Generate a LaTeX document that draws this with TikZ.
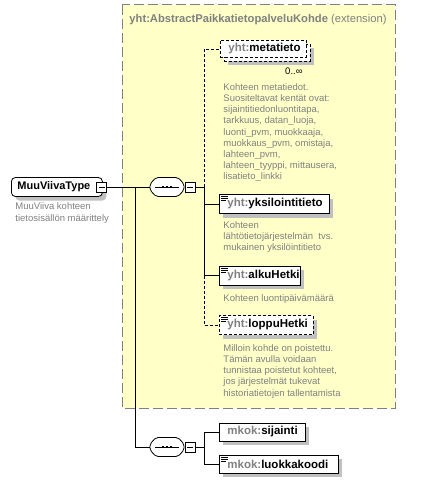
\documentclass[tikz,border=0pt]{standalone}
\usepackage{fontspec}
\setmainfont{Liberation Sans}
\usetikzlibrary{shadows}
\definecolor{boxyellow}{RGB}{255,255,200}
\definecolor{bordergray}{RGB}{128,128,128}
\definecolor{txtgray}{RGB}{128,128,128}
\definecolor{shadowgray}{RGB}{192,192,192}
\newcommand\elemicon[1]{%
  \draw[line width=0.7pt] ([shift={(2,2.5)}]#1.north west) -- +(6.5,0);
  \draw[line width=0.7pt] ([shift={(2,4.5)}]#1.north west) -- +(6.5,0);
  \draw[line width=0.7pt] ([shift={(2,6.5)}]#1.north west) -- +(4.5,0);}
\newcommand\minusmark[1]{\draw[line width=0.7pt] ([xshift=-3pt]#1.center) -- ([xshift=3pt]#1.center);}
\newcommand\seqoutline[2]{% #1 = node, #2 = style
  \path[#2] ([shift={(-17,-3)}]#1.center) -- ([shift={(-11,-9.5)}]#1.center) -- ([shift={(11,-9.5)}]#1.center)
    -- ([shift={(17,-3)}]#1.center) -- ([shift={(17,3)}]#1.center) -- ([shift={(11,9.5)}]#1.center)
    -- ([shift={(-11,9.5)}]#1.center) -- ([shift={(-17,3)}]#1.center) -- cycle;}
\newcommand\seqmark[1]{%
  \begin{scope}[shift={(4,4)}]\seqoutline{#1}{fill=shadowgray,rounded corners=2pt}\end{scope}
  \seqoutline{#1}{draw=black,fill=white,line width=0.8pt,rounded corners=2pt}
  \draw[line width=0.8pt] ([xshift=-12pt]#1.center) -- ([xshift=12pt]#1.center);
  \foreach \dx in {-4,0,4} {\fill ([shift={(\dx-1.3,-1.3)}]#1.center) rectangle +(2.6,2.6);}}
\begin{document}
\begin{tikzpicture}[x=1pt,y=-1pt,
  line width=0.9pt,
  shad/.style={drop shadow={shadow xshift=4pt,shadow yshift=-4pt,fill=shadowgray,opacity=1}},
  elem/.style={draw=black,fill=white,line width=0.8pt,minimum height=19pt,inner ysep=0pt,inner xsep=8pt,
    font=\fontsize{11.5}{13}\selectfont\bfseries,anchor=west,align=left},
  optelem/.style={elem,dash pattern=on 3pt off 2pt},
  desc/.style={font=\fontsize{9.5}{11.2}\selectfont,text=txtgray,align=left,anchor=north west,inner sep=0pt},
  minusbox/.style={draw=black,fill=white,line width=0.8pt,minimum size=10pt,inner sep=0pt},
  seqbox/.style={minimum width=34pt,minimum height=19pt,inner sep=0pt},
  optline/.style={dash pattern=on 3pt off 2pt}]
\useasboundingbox (0,0) rectangle (438,484);

% extension area
\path[fill=boxyellow,draw=bordergray,line width=1pt,dash pattern=on 10pt off 4pt] (122,5) rectangle (395,408);
\node[anchor=base west,inner sep=0pt,text=txtgray,font=\fontsize{11.2}{13}\selectfont] (title) at (129,23)
  {\textbf{yht:AbstractPaikkatietopalveluKohde} (extension)};

% root type
\node[elem,shad,rounded corners=4pt,text width=79pt,inner xsep=6pt,font=\fontsize{11}{13}\selectfont\bfseries] (mvt) at (11,187) {MuuViivaType};
\node[minusbox] (mvtm) at ([xshift=-1pt]mvt.east) {};
\minusmark{mvtm}
\node[desc,font=\fontsize{9.5}{12.5}\selectfont] (mvtd) at (15,202) {MuuViiva kohteen\\tietosisällön määrittely};

% sequence 1
\node[seqbox] (seq1) at (167,187) {};
\seqmark{seq1}
\node[minusbox,anchor=west] (seq1m) at ([xshift=0.5pt]seq1.east) {};
\minusmark{seq1m}
\coordinate (b1) at (204,187);
\coordinate (j1) at (135,187);

% sequence 2
\node[seqbox] (seq2) at (167,447) {};
\seqmark{seq2}
\node[minusbox,anchor=west] (seq2m) at ([xshift=0.5pt]seq2.east) {};
\minusmark{seq2m}
\coordinate (b2) at (204,447);

% elements
\node[optelem,shad,text width=70pt,minimum height=17pt] (metaback) at (224,53) {};
\node[optelem,text width=70pt,minimum height=17pt] (meta) at (220,49) {\textcolor{txtgray}{yht:}metatieto};
\node[anchor=base east,inner sep=0pt,font=\fontsize{9.5}{11}\selectfont] (metaocc) at (303,75) {0..∞};
\node[desc] (metad) at (223,83) {Kohteen metatiedot.\\Suositeltavat kentät ovat:\\sijaintitiedonluontitapa,\\tarkkuus, datan\_luoja,\\luonti\_pvm, muokkaaja,\\muokkaus\_pvm, omistaja,\\lahteen\_pvm,\\lahteen\_tyyppi, mittausera,\\lisatieto\_linkki};

\node[elem,shad,text width=94pt] (yks) at (219,204) {\textcolor{txtgray}{yht:}yksilointitieto};
\elemicon{yks}
\node[desc] (yksd) at (223,221) {Kohteen\\lähtötietojärjestelmän\ \ tvs.\\mukainen yksilöintitieto};

\node[elem,shad,text width=65pt] (alku) at (219,275.5) {\textcolor{txtgray}{yht:}alkuHetki};
\elemicon{alku}
\node[desc] (alkud) at (223,294) {Kohteen luontipäivämäärä};

\node[optelem,shad,text width=78pt] (loppu) at (219,325) {\textcolor{txtgray}{yht:}loppuHetki};
\elemicon{loppu}
\node[desc] (loppud) at (223,344) {Milloin kohde on poistettu.\\Tämän avulla voidaan\\tunnistaa poistetut kohteet,\\jos järjestelmät tukevat\\historiatietojen tallentamista};

\node[elem,shad,text width=70pt,minimum height=18pt] (sij) at (219,432) {\textcolor{txtgray}{mkok:}sijainti};
\node[elem,shad,text width=103pt,minimum height=18pt] (luok) at (219,464) {\textcolor{txtgray}{mkok:}luokkakoodi};
\elemicon{luok}

% connectors
\draw (mvtm.east) -- (seq1.west);
\draw (j1) |- (seq2.west);
\draw (seq1m.east) -- (b1);
\draw[optline] (b1) |- (meta.west);
\draw (b1) |- (yks.west);
\draw (b1) |- (alku.west);
\draw[optline] (b1 |- alku.west) |- (loppu.west);
\draw (seq2m.east) -- (b2);
\draw (b2) |- (sij.west);
\draw (b2) |- (luok.west);
\end{tikzpicture}
\end{document}
